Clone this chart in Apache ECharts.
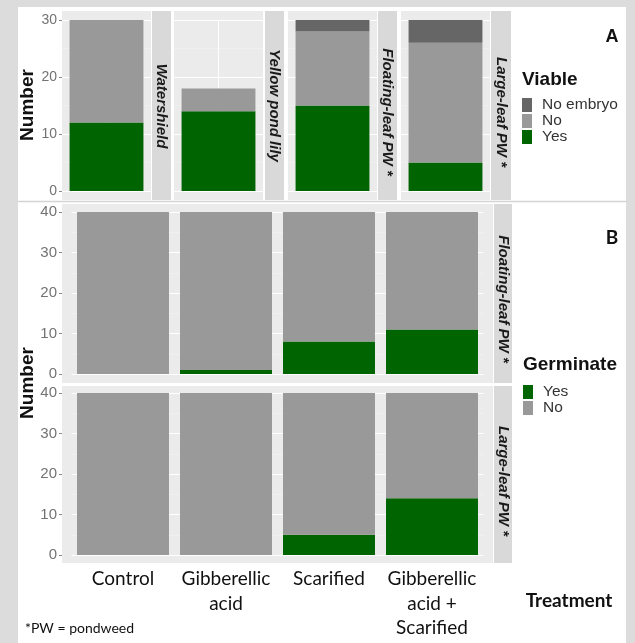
<!DOCTYPE html>
<html><head><meta charset="utf-8">
<script src="https://cdn.jsdelivr.net/npm/echarts@6/dist/echarts.min.js"></script>
<style>html,body{margin:0;padding:0;background:#dcdcdc}#c{width:635px;height:643px}</style>
</head><body><div id="c"></div>
<script>
// ---------- data ----------
const speciesA = ['Watershield', 'Yellow pond lily', 'Floating-leaf PW *', 'Large-leaf PW *'];
const viableYes = [12, 14, 15, 5];
const viableNo = [18, 4, 13, 21];
const viableNoEmbryo = [0, 0, 2, 4];
const viableTicks = [0, 10, 20, 30];

const treatments = ['Control', 'Gibberellic\nacid', 'Scarified', 'Gibberellic\nacid +\nScarified'];
const speciesB = ['Floating-leaf PW *', 'Large-leaf PW *'];
const germYesFloating = [0, 1, 8, 11];
const germNoFloating = [40, 39, 32, 29];
const germYesLarge = [0, 0, 5, 14];
const germNoLarge = [40, 40, 35, 26];
const germTicks = [0, 10, 20, 30, 40];

// ---------- styles / layout ----------
const GREEN = '#006400', GREY = '#999999', DARK = '#666666';
const PANEL = '#EBEBEB', STRIP = '#D9D9D9';
const SANS = '"Liberation Sans", Arial, sans-serif';
const CAL = 'Lato, "Open Sans", sans-serif';

const aPanels = [{x: 62, w: 89}, {x: 174, w: 89}, {x: 288, w: 89}, {x: 401, w: 89}];
const aStrips = [{x: 152, w: 19, cy: 106}, {x: 265, w: 19, cy: 105.5}, {x: 378, w: 19, cy: 112}, {x: 491, w: 20, cy: 112}];
const bPanels = [{top: 204, h: 179, gTop: 212, stripCy: 299}, {top: 386, h: 177, gTop: 393, stripCy: 481}];

const grids = [], xAxes = [], yAxes = [], series = [];

function yAx(i, max, showLabels, offset, fs) {
  return {
    type: 'value', gridIndex: i, min: 0, max: max, interval: 10, offset: offset || 0,
    axisLine: {show: false},
    axisTick: {show: showLabels, length: 3, lineStyle: {color: '#888'}},
    axisLabel: {show: showLabels, margin: 5, color: '#737373', fontSize: fs, fontFamily: SANS},
    splitLine: {show: true, lineStyle: {color: '#ffffff', width: 1.1}},
    minorTick: {show: false, splitNumber: 2},
    minorSplitLine: {show: true, lineStyle: {color: '#f4f4f4', width: 0.6}}
  };
}

speciesA.forEach((sp, i) => {
  const p = aPanels[i];
  grids.push({left: p.x, width: p.w, top: 20, height: 171});
  xAxes.push({type: 'category', gridIndex: i, data: [sp], show: true,
    axisLine: {show: false}, axisTick: {show: false}, axisLabel: {show: false}, splitLine: {show: false}});
  yAxes.push(yAx(i, 30, i === 0, 0, 14));
  const common = {type: 'bar', xAxisIndex: i, yAxisIndex: i, stack: 'A' + i, barCategoryGap: '17%', silent: true, z: 3};
  series.push(Object.assign({name: 'Yes', data: [viableYes[i]], itemStyle: {color: GREEN}}, common));
  series.push(Object.assign({name: 'No', data: [viableNo[i]], itemStyle: {color: GREY}}, common));
  series.push(Object.assign({name: 'No embryo', data: [viableNoEmbryo[i]], itemStyle: {color: DARK}}, common));
  series.push({type: 'line', xAxisIndex: i, yAxisIndex: i, data: [], z: 1, silent: true,
    markLine: {z: 1, silent: true, symbol: 'none', label: {show: false}, animation: false,
      lineStyle: {color: '#fff', width: 1.1, type: 'solid'}, data: [{xAxis: 0}]}});
});

const bData = [[germYesFloating, germNoFloating], [germYesLarge, germNoLarge]];
speciesB.forEach((sp, k) => {
  const gi = 4 + k, p = bPanels[k];
  grids.push({left: 71.5, width: 412, top: p.gTop, height: 162});
  xAxes.push({type: 'category', gridIndex: gi, data: treatments,
    axisLine: {show: false}, axisTick: {show: false}, splitLine: {show: false},
    axisLabel: {show: k === 1, interval: 0, margin: 12, color: '#111', fontSize: 19,
      lineHeight: 24.5, fontFamily: CAL}});
  yAxes.push(yAx(gi, 40, true, 9.5, 15));
  const common = {type: 'bar', xAxisIndex: gi, yAxisIndex: gi, stack: 'B' + k, barCategoryGap: '10.7%', silent: true, z: 3};
  series.push(Object.assign({name: 'Yes', data: bData[k][0], itemStyle: {color: GREEN}}, common));
  series.push(Object.assign({name: 'No', data: bData[k][1], itemStyle: {color: GREY}}, common));
});

// ---------- graphics (frame, panels, strips, titles) ----------
const g = [];
g.push({type: 'rect', z: -30, shape: {x: 18, y: 7, width: 608, height: 636}, style: {fill: '#ffffff'}});
g.push({type: 'line', z: -29, shape: {x1: 18, y1: 201.5, x2: 626, y2: 201.5}, style: {stroke: '#d4d4d4', lineWidth: 1.5}});
aPanels.forEach(p => g.push({type: 'rect', z: -20, shape: {x: p.x, y: 11, width: p.w, height: 189}, style: {fill: PANEL}}));
aStrips.forEach((s, i) => {
  g.push({type: 'rect', z: -20, shape: {x: s.x, y: 11, width: s.w, height: 189}, style: {fill: STRIP}});
  g.push({type: 'text', z: 5, x: s.x + s.w / 2, y: s.cy, rotation: -Math.PI / 2,
    style: {text: speciesA[i], fill: '#1a1a1a', fontSize: 15, fontWeight: 'bold', fontStyle: 'italic',
      fontFamily: SANS, align: 'center', verticalAlign: 'middle', textAlign: 'center', textVerticalAlign: 'middle'}});
});
bPanels.forEach((p, k) => {
  g.push({type: 'rect', z: -20, shape: {x: 62, y: p.top, width: 431, height: p.h}, style: {fill: PANEL}});
  g.push({type: 'rect', z: -20, shape: {x: 494, y: p.top, width: 18, height: p.h}, style: {fill: STRIP}});
  g.push({type: 'text', z: 5, x: 503, y: p.stripCy, rotation: -Math.PI / 2,
    style: {text: speciesB[k], fill: '#1a1a1a', fontSize: 15, fontWeight: 'bold', fontStyle: 'italic',
      fontFamily: SANS, align: 'center', verticalAlign: 'middle', textAlign: 'center', textVerticalAlign: 'middle'}});
});
function txt(t, x, y, o) {
  return {type: 'text', z: 5, x: x, y: y, rotation: o.rot || 0,
    style: Object.assign({text: t, fill: '#111', fontFamily: SANS, align: o.align || 'center', verticalAlign: 'middle',
      textAlign: o.align || 'center', textVerticalAlign: 'middle'}, o.s)};
}
g.push(txt('Number', 28, 105, {rot: Math.PI / 2, s: {fontSize: 19, fontWeight: 'bold'}}));
g.push(txt('Number', 28, 383, {rot: Math.PI / 2, s: {fontSize: 19, fontWeight: 'bold'}}));
g.push(txt('A', 612, 37, {s: {fontSize: 18, fontWeight: 'bold'}}));
g.push(txt('B', 612, 238, {s: {fontSize: 19, fontWeight: 'bold', fontFamily: CAL}}));
g.push(txt('Viable', 522, 80, {align: 'left', s: {fontSize: 19, fontWeight: 'bold'}}));
g.push(txt('Germinate', 523, 365, {align: 'left', s: {fontSize: 19, fontWeight: 'bold'}}));
g.push(txt('Treatment', 569, 601, {s: {fontSize: 19, fontWeight: 'bold', fontFamily: CAL}}));
g.push(txt('*PW = pondweed', 25, 628, {align: 'left', s: {fontSize: 14, fontFamily: CAL}}));

const legendCommon = {orient: 'vertical', itemWidth: 10, itemHeight: 14, itemGap: 0, padding: 0,
  icon: 'rect', selectedMode: false, itemStyle: {borderWidth: 0},
  textStyle: {fontSize: 15.5, lineHeight: 14.5, color: '#333', fontFamily: SANS, padding: [0, 0, 0, 5]}};

const chart = echarts.init(document.getElementById('c'));
chart.setOption({
  backgroundColor: '#dcdcdc',
  animation: false,
  grid: grids, xAxis: xAxes, yAxis: yAxes, series: series,
  legend: [
    Object.assign({left: 522, top: 97, data: ['No embryo', 'No', 'Yes']}, legendCommon),
    Object.assign({left: 523, top: 384, data: ['Yes', 'No']}, legendCommon)
  ],
  graphic: {elements: g}
});
</script></body></html>
